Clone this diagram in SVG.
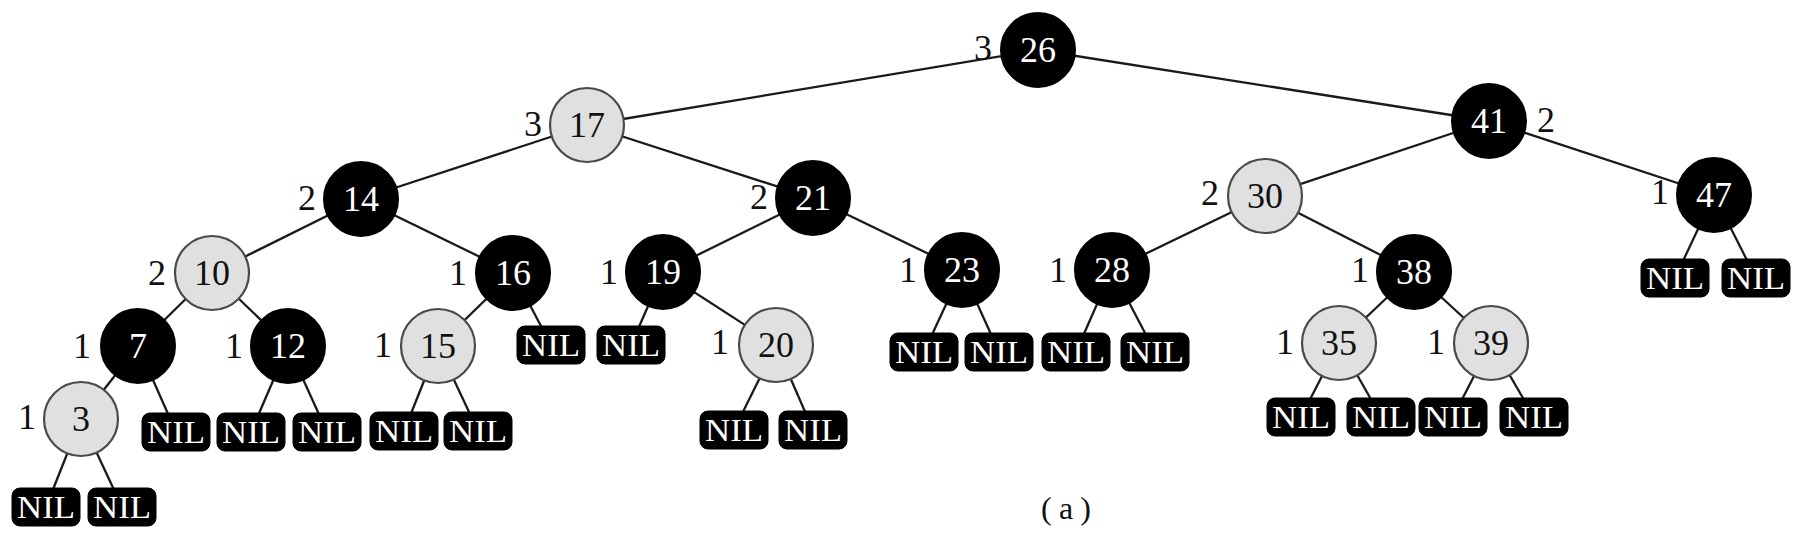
<svg xmlns="http://www.w3.org/2000/svg" width="1806" height="538" viewBox="0 0 1806 538">
<style>
.e{stroke:#1a1a1a;stroke-width:2.3;fill:none}
.b{fill:#000;stroke:#000;stroke-width:2}
.r{fill:#e0e0e0;stroke:#4a4a4a;stroke-width:2.2}
.nil{fill:#000;stroke:#000;stroke-width:1}
.t{font-family:"Liberation Serif","Times New Roman",serif;font-size:36px;text-anchor:middle}
.w{fill:#fff}
.k{fill:#111}
.nt{font-family:"Liberation Serif","Times New Roman",serif;font-size:32px;text-anchor:middle;fill:#fff}
.cap{font-family:"Liberation Serif","Times New Roman",serif;font-size:32px;text-anchor:middle;fill:#111}
</style>
<rect width="1806" height="538" fill="#fff"/>
<g id="connectors">
<line class="e" x1="1038" y1="50" x2="587" y2="125"/>
<line class="e" x1="1038" y1="50" x2="1489" y2="121"/>
<line class="e" x1="587" y1="125" x2="361" y2="199"/>
<line class="e" x1="587" y1="125" x2="813" y2="198"/>
<line class="e" x1="1489" y1="121" x2="1265" y2="196"/>
<line class="e" x1="1489" y1="121" x2="1714" y2="195"/>
<line class="e" x1="1714" y1="195" x2="1675" y2="278"/>
<line class="e" x1="1714" y1="195" x2="1756" y2="278"/>
<line class="e" x1="361" y1="199" x2="212" y2="273"/>
<line class="e" x1="361" y1="199" x2="513" y2="273"/>
<line class="e" x1="813" y1="198" x2="663" y2="272"/>
<line class="e" x1="813" y1="198" x2="962" y2="270"/>
<line class="e" x1="1265" y1="196" x2="1112" y2="270"/>
<line class="e" x1="1265" y1="196" x2="1414" y2="272"/>
<line class="e" x1="212" y1="273" x2="138" y2="346"/>
<line class="e" x1="212" y1="273" x2="288" y2="346"/>
<line class="e" x1="513" y1="273" x2="438" y2="346"/>
<line class="e" x1="513" y1="273" x2="551" y2="345"/>
<line class="e" x1="663" y1="272" x2="631" y2="345"/>
<line class="e" x1="663" y1="272" x2="776" y2="345"/>
<line class="e" x1="962" y1="270" x2="924" y2="352"/>
<line class="e" x1="962" y1="270" x2="999" y2="352"/>
<line class="e" x1="1112" y1="270" x2="1076" y2="352"/>
<line class="e" x1="1112" y1="270" x2="1155" y2="352"/>
<line class="e" x1="1414" y1="272" x2="1339" y2="343"/>
<line class="e" x1="1414" y1="272" x2="1491" y2="343"/>
<line class="e" x1="138" y1="346" x2="81" y2="419"/>
<line class="e" x1="138" y1="346" x2="176" y2="432"/>
<line class="e" x1="288" y1="346" x2="251" y2="432"/>
<line class="e" x1="288" y1="346" x2="327" y2="432"/>
<line class="e" x1="438" y1="346" x2="404" y2="431"/>
<line class="e" x1="438" y1="346" x2="478" y2="431"/>
<line class="e" x1="776" y1="345" x2="734" y2="430"/>
<line class="e" x1="776" y1="345" x2="813" y2="430"/>
<line class="e" x1="1339" y1="343" x2="1301" y2="417"/>
<line class="e" x1="1339" y1="343" x2="1381" y2="417"/>
<line class="e" x1="1491" y1="343" x2="1453" y2="417"/>
<line class="e" x1="1491" y1="343" x2="1534" y2="417"/>
<line class="e" x1="81" y1="419" x2="46" y2="507"/>
<line class="e" x1="81" y1="419" x2="122" y2="507"/>
</g>
<g id="n26"><circle class="b" cx="1038" cy="50" r="37"/><text class="t w" x="1038" y="62">26</text><text class="t k" x="983" y="60">3</text></g>
<g id="n17"><circle class="r" cx="587" cy="125" r="37"/><text class="t k" x="587" y="137">17</text><text class="t k" x="533" y="136">3</text></g>
<g id="n41"><circle class="b" cx="1489" cy="121" r="37"/><text class="t w" x="1489" y="133">41</text><text class="t k" x="1546" y="132">2</text></g>
<g id="n14"><circle class="b" cx="361" cy="199" r="37"/><text class="t w" x="361" y="211">14</text><text class="t k" x="307" y="210">2</text></g>
<g id="n21"><circle class="b" cx="813" cy="198" r="37"/><text class="t w" x="813" y="210">21</text><text class="t k" x="759" y="209">2</text></g>
<g id="n30"><circle class="r" cx="1265" cy="196" r="37"/><text class="t k" x="1265" y="208">30</text><text class="t k" x="1210" y="205">2</text></g>
<g id="n47"><circle class="b" cx="1714" cy="195" r="37"/><text class="t w" x="1714" y="207">47</text><text class="t k" x="1660" y="204">1</text></g>
<g id="n10"><circle class="r" cx="212" cy="273" r="37"/><text class="t k" x="212" y="285">10</text><text class="t k" x="157" y="285">2</text></g>
<g id="n16"><circle class="b" cx="513" cy="273" r="37"/><text class="t w" x="513" y="285">16</text><text class="t k" x="458" y="285">1</text></g>
<g id="n19"><circle class="b" cx="663" cy="272" r="37"/><text class="t w" x="663" y="284">19</text><text class="t k" x="609" y="284">1</text></g>
<g id="n23"><circle class="b" cx="962" cy="270" r="37"/><text class="t w" x="962" y="282">23</text><text class="t k" x="908" y="282">1</text></g>
<g id="n28"><circle class="b" cx="1112" cy="270" r="37"/><text class="t w" x="1112" y="282">28</text><text class="t k" x="1058" y="282">1</text></g>
<g id="n38"><circle class="b" cx="1414" cy="272" r="37"/><text class="t w" x="1414" y="284">38</text><text class="t k" x="1360" y="282">1</text></g>
<g id="n7"><circle class="b" cx="138" cy="346" r="37"/><text class="t w" x="138" y="358">7</text><text class="t k" x="82" y="358">1</text></g>
<g id="n12"><circle class="b" cx="288" cy="346" r="37"/><text class="t w" x="288" y="358">12</text><text class="t k" x="234" y="358">1</text></g>
<g id="n15"><circle class="r" cx="438" cy="346" r="37"/><text class="t k" x="438" y="358">15</text><text class="t k" x="383" y="357">1</text></g>
<g id="n20"><circle class="r" cx="776" cy="345" r="37"/><text class="t k" x="776" y="357">20</text><text class="t k" x="720" y="354">1</text></g>
<g id="n35"><circle class="r" cx="1339" cy="343" r="37"/><text class="t k" x="1339" y="355">35</text><text class="t k" x="1285" y="354">1</text></g>
<g id="n39"><circle class="r" cx="1491" cy="343" r="37"/><text class="t k" x="1491" y="355">39</text><text class="t k" x="1436" y="354">1</text></g>
<g id="n3"><circle class="r" cx="81" cy="419" r="37"/><text class="t k" x="81" y="431">3</text><text class="t k" x="27" y="429">1</text></g>
<g id="nil47a"><rect class="nil" x="1641" y="259" width="68" height="38" rx="8"/><text class="nt" x="1675" y="289" textLength="58" lengthAdjust="spacingAndGlyphs">NIL</text></g>
<g id="nil47b"><rect class="nil" x="1722" y="259" width="68" height="38" rx="8"/><text class="nt" x="1756" y="289" textLength="58" lengthAdjust="spacingAndGlyphs">NIL</text></g>
<g id="nil16"><rect class="nil" x="517" y="326" width="68" height="38" rx="8"/><text class="nt" x="551" y="356" textLength="58" lengthAdjust="spacingAndGlyphs">NIL</text></g>
<g id="nil19"><rect class="nil" x="597" y="326" width="68" height="38" rx="8"/><text class="nt" x="631" y="356" textLength="58" lengthAdjust="spacingAndGlyphs">NIL</text></g>
<g id="nil23a"><rect class="nil" x="890" y="333" width="68" height="38" rx="8"/><text class="nt" x="924" y="363" textLength="58" lengthAdjust="spacingAndGlyphs">NIL</text></g>
<g id="nil23b"><rect class="nil" x="965" y="333" width="68" height="38" rx="8"/><text class="nt" x="999" y="363" textLength="58" lengthAdjust="spacingAndGlyphs">NIL</text></g>
<g id="nil28a"><rect class="nil" x="1042" y="333" width="68" height="38" rx="8"/><text class="nt" x="1076" y="363" textLength="58" lengthAdjust="spacingAndGlyphs">NIL</text></g>
<g id="nil28b"><rect class="nil" x="1121" y="333" width="68" height="38" rx="8"/><text class="nt" x="1155" y="363" textLength="58" lengthAdjust="spacingAndGlyphs">NIL</text></g>
<g id="nil7"><rect class="nil" x="142" y="413" width="68" height="38" rx="8"/><text class="nt" x="176" y="443" textLength="58" lengthAdjust="spacingAndGlyphs">NIL</text></g>
<g id="nil12a"><rect class="nil" x="217" y="413" width="68" height="38" rx="8"/><text class="nt" x="251" y="443" textLength="58" lengthAdjust="spacingAndGlyphs">NIL</text></g>
<g id="nil12b"><rect class="nil" x="293" y="413" width="68" height="38" rx="8"/><text class="nt" x="327" y="443" textLength="58" lengthAdjust="spacingAndGlyphs">NIL</text></g>
<g id="nil15a"><rect class="nil" x="370" y="412" width="68" height="38" rx="8"/><text class="nt" x="404" y="442" textLength="58" lengthAdjust="spacingAndGlyphs">NIL</text></g>
<g id="nil15b"><rect class="nil" x="444" y="412" width="68" height="38" rx="8"/><text class="nt" x="478" y="442" textLength="58" lengthAdjust="spacingAndGlyphs">NIL</text></g>
<g id="nil20a"><rect class="nil" x="700" y="411" width="68" height="38" rx="8"/><text class="nt" x="734" y="441" textLength="58" lengthAdjust="spacingAndGlyphs">NIL</text></g>
<g id="nil20b"><rect class="nil" x="779" y="411" width="68" height="38" rx="8"/><text class="nt" x="813" y="441" textLength="58" lengthAdjust="spacingAndGlyphs">NIL</text></g>
<g id="nil35a"><rect class="nil" x="1267" y="398" width="68" height="38" rx="8"/><text class="nt" x="1301" y="428" textLength="58" lengthAdjust="spacingAndGlyphs">NIL</text></g>
<g id="nil35b"><rect class="nil" x="1347" y="398" width="68" height="38" rx="8"/><text class="nt" x="1381" y="428" textLength="58" lengthAdjust="spacingAndGlyphs">NIL</text></g>
<g id="nil39a"><rect class="nil" x="1419" y="398" width="68" height="38" rx="8"/><text class="nt" x="1453" y="428" textLength="58" lengthAdjust="spacingAndGlyphs">NIL</text></g>
<g id="nil39b"><rect class="nil" x="1500" y="398" width="68" height="38" rx="8"/><text class="nt" x="1534" y="428" textLength="58" lengthAdjust="spacingAndGlyphs">NIL</text></g>
<g id="nil3a"><rect class="nil" x="12" y="488" width="68" height="38" rx="8"/><text class="nt" x="46" y="518" textLength="58" lengthAdjust="spacingAndGlyphs">NIL</text></g>
<g id="nil3b"><rect class="nil" x="88" y="488" width="68" height="38" rx="8"/><text class="nt" x="122" y="518" textLength="58" lengthAdjust="spacingAndGlyphs">NIL</text></g>
<text class="cap" x="1066" y="519" textLength="50" lengthAdjust="spacing">(a)</text>
</svg>
